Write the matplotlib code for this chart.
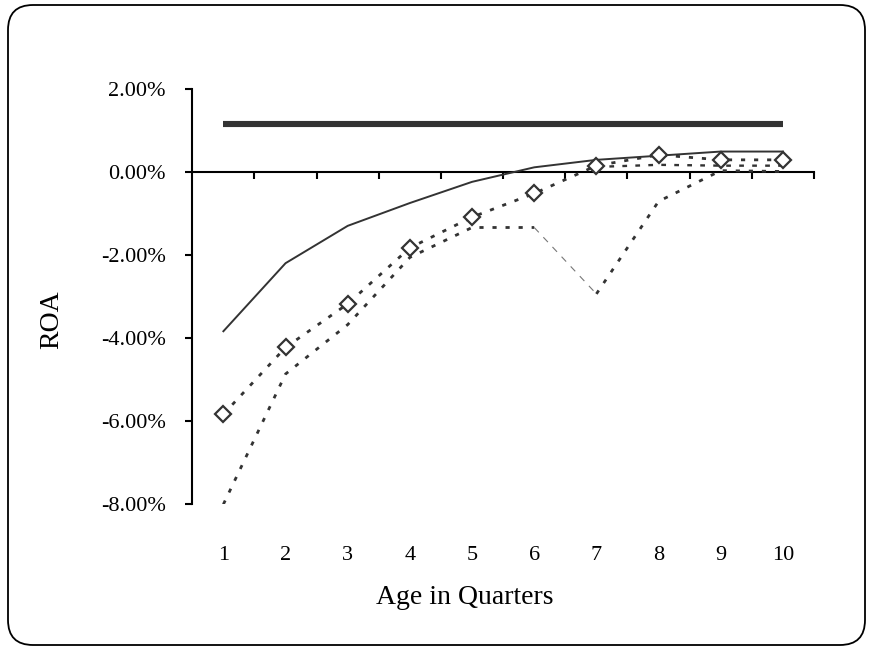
import matplotlib
matplotlib.use('Agg')
import matplotlib.pyplot as plt
import numpy as np
from matplotlib.patches import FancyBboxPatch

# ---- data ----
quarters = [1, 2, 3, 4, 5, 6, 7, 8, 9, 10]
benchmark = [1.16, 1.16, 1.16, 1.16, 1.16, 1.16, 1.16, 1.16, 1.16, 1.16]
roa_solid = [-3.83, -2.19, -1.29, -0.74, -0.23, 0.12, 0.30, 0.40, 0.50, 0.50]
roa_diamond = [-5.83, -4.22, -3.17, -1.82, -1.08, -0.51, 0.16, 0.42, 0.30, 0.30]
roa_dotted = [-8.00, -4.86, -3.67, -2.05, -1.33, -1.33, -2.93, -0.70, 0.04, 0.02]
roa_dashed = [np.nan, np.nan, np.nan, np.nan, np.nan, np.nan, 0.13, 0.18, 0.16, 0.16]
yticks = [-8, -6, -4, -2, 0, 2]
xticklabels = [str(q) for q in quarters]
xlabel = 'Age in Quarters'
ylabel = 'ROA'

plt.rcParams['font.family'] = ['Liberation Serif', 'DejaVu Serif']

W, H = 872, 651
fig = plt.figure(figsize=(W / 100, H / 100), dpi=100)

# rounded border
border = FancyBboxPatch((0.08, 0.06), 8.57, 6.40,
                        boxstyle="round,pad=0,rounding_size=0.25",
                        transform=fig.dpi_scale_trans, fill=False,
                        edgecolor='black', linewidth=1.3)
fig.patches.append(border)

left, right, top, bottom = 192.3, 814, 89.3, 504.3
ax = fig.add_axes([left / W, 1 - bottom / H, (right - left) / W, (bottom - top) / H])
ax.set_xlim(0.5, 10.5)
ax.set_ylim(-8, 2)

c = '#333333'
q = np.array(quarters)
d = np.array(roa_dotted)

ax.plot(q, benchmark, color=c, lw=4.4, solid_capstyle='butt', zorder=3)
ax.plot(q, roa_solid, color=c, lw=1.4, zorder=3)
ax.plot(q[:6], d[:6], color=c, lw=2.0, ls=(0, (1.5, 3.2)), zorder=3)
ax.plot(q[5:7], d[5:7], color='#777777', lw=0.8, ls=(0, (6, 6)), zorder=3)
ax.plot(q[6:], d[6:], color=c, lw=2.0, ls=(0, (1.5, 3.2)), zorder=3)
ax.plot(q, roa_dashed, color=c, lw=1.7, ls=(0, (2, 3.5)), zorder=3)
ax.plot(q, roa_diamond, color=c, lw=2.0, ls=(0, (1.5, 3.2)), marker='D', ms=8,
        mfc='white', mec=c, mew=1.6, zorder=4)

for s in ['top', 'right', 'bottom']:
    ax.spines[s].set_visible(False)
ax.spines['left'].set_linewidth(1.5)

ax.set_yticks(yticks)
ax.set_yticklabels([f"{v:.2f}%" for v in yticks])
ax.tick_params(axis='y', direction='out', length=5, width=1.5, pad=14, labelsize=16)

ax.set_xticks(quarters)
ax.set_xticklabels(xticklabels)
ax.tick_params(axis='x', length=0, pad=30, labelsize=16)

# zero line with category-boundary ticks
sec = ax.secondary_xaxis(0.8)
sec.set_xticks(np.arange(1.5, 11, 1))
sec.tick_params(direction='in', length=5, width=1.5, labeltop=False, labelbottom=False)
sec.spines['top'].set_linewidth(1.5)

fig.text(52 / W, 1 - 320 / H, ylabel, rotation=90, ha='center', va='center', fontsize=20)
fig.text(465 / W, 1 - 597 / H, xlabel, ha='center', va='center', fontsize=20)

fig.savefig('out.png', dpi=100)
